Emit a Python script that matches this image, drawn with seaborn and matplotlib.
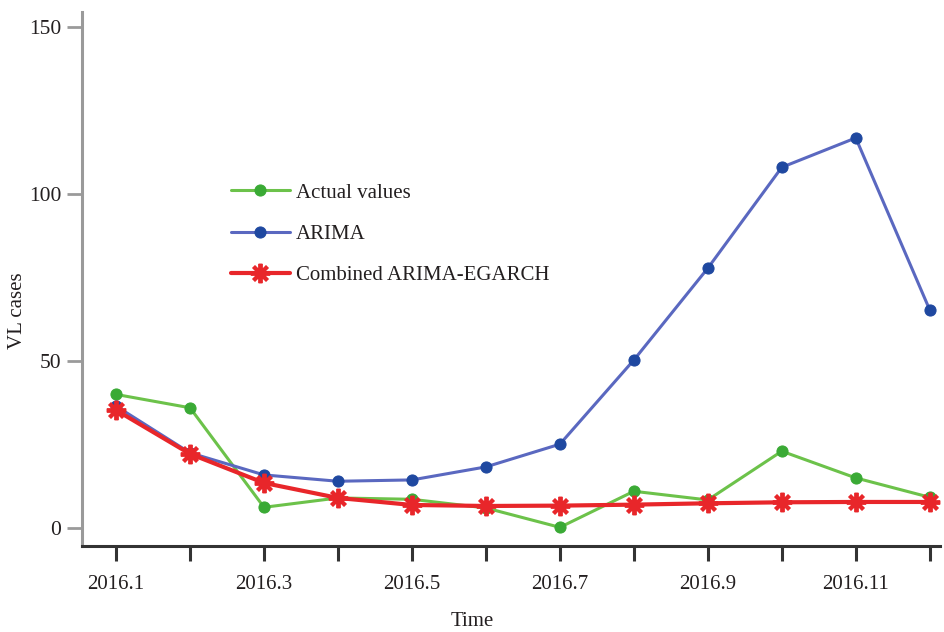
import matplotlib
matplotlib.use("Agg")
import matplotlib.pyplot as plt
import seaborn as sns
import pandas as pd

sns.set_theme(style="white")
plt.rcParams["font.family"] = ["Liberation Serif", "DejaVu Serif"]

# Monthly visceral leishmaniasis cases, 2016
months = list(range(1, 13))
tick_labels = ["2016.1", "", "2016.3", "", "2016.5", "", "2016.7", "",
               "2016.9", "", "2016.11", ""]
actual = [40, 36, 6.2, 9, 8.6, 6, 0.2, 11, 8.4, 23, 15, 9.2]
arima = [36.5, 22.5, 15.9, 14, 14.4, 18.3, 25.1, 50.3, 77.8, 108, 116.8, 65.3]
combined = [35.3, 22.2, 13.5, 9, 6.9, 6.6, 6.7, 7, 7.4, 7.7, 7.8, 7.8]

df = pd.DataFrame({"month": months, "actual": actual,
                   "arima": arima, "combined": combined})

fig = plt.figure(figsize=(9.45, 6.32), dpi=100)
ax = fig.add_axes([0.0868, 0.136, 0.908, 0.845])

sns.lineplot(data=df, x="month", y="actual", ax=ax, color="#6cc24a",
             lw=2.2, marker="o", markersize=8, markerfacecolor="#3aaa35",
             markeredgecolor="#3aaa35", label="Actual values")
sns.lineplot(data=df, x="month", y="arima", ax=ax, color="#5a68c0",
             lw=2.2, marker="o", markersize=8, markerfacecolor="#1f48a0",
             markeredgecolor="#1f48a0", label="ARIMA")
sns.lineplot(data=df, x="month", y="combined", ax=ax, color="#e8262a",
             lw=3, marker=(8, 2, 0), markersize=14, markeredgewidth=2.8,
             markeredgecolor="#e8262a", label="Combined ARIMA-EGARCH")

ax.set_xlim(0.54, 12.14)
ax.set_ylim(-5.4, 154.5)
ax.set_xticks(months)
ax.set_xticklabels(tick_labels)
ax.set_yticks([0, 50, 100, 150])

for side in ("top", "right"):
    ax.spines[side].set_visible(False)
ax.spines["left"].set_color("#9a9a9a")
ax.spines["left"].set_linewidth(2.2)
ax.spines["bottom"].set_color("#333333")
ax.spines["bottom"].set_linewidth(2.2)

ax.tick_params(axis="x", direction="out", length=11, width=2.2,
               color="#333333", labelsize=15, pad=10, bottom=True)
ax.tick_params(axis="y", direction="out", length=11, width=2,
               color="#9a9a9a", labelsize=15.5, pad=4, left=True)
for lab in ax.get_xticklabels() + ax.get_yticklabels():
    lab.set_color("#231f20")

ax.set_xlabel("Time", fontsize=15, color="#231f20", va="center")
ax.set_ylabel("VL cases", fontsize=15, color="#231f20", va="center")
ax.xaxis.set_label_coords(0.455, -0.142)
ax.yaxis.set_label_coords(-0.075, 0.44)

leg = ax.legend(loc="upper left", bbox_to_anchor=(0.152, 0.715), frameon=False,
                fontsize=15, handlelength=2.8, labelspacing=1.05,
                handletextpad=0.3)
for t in leg.get_texts():
    t.set_color("#231f20")

fig.savefig("out.png", dpi=100)
